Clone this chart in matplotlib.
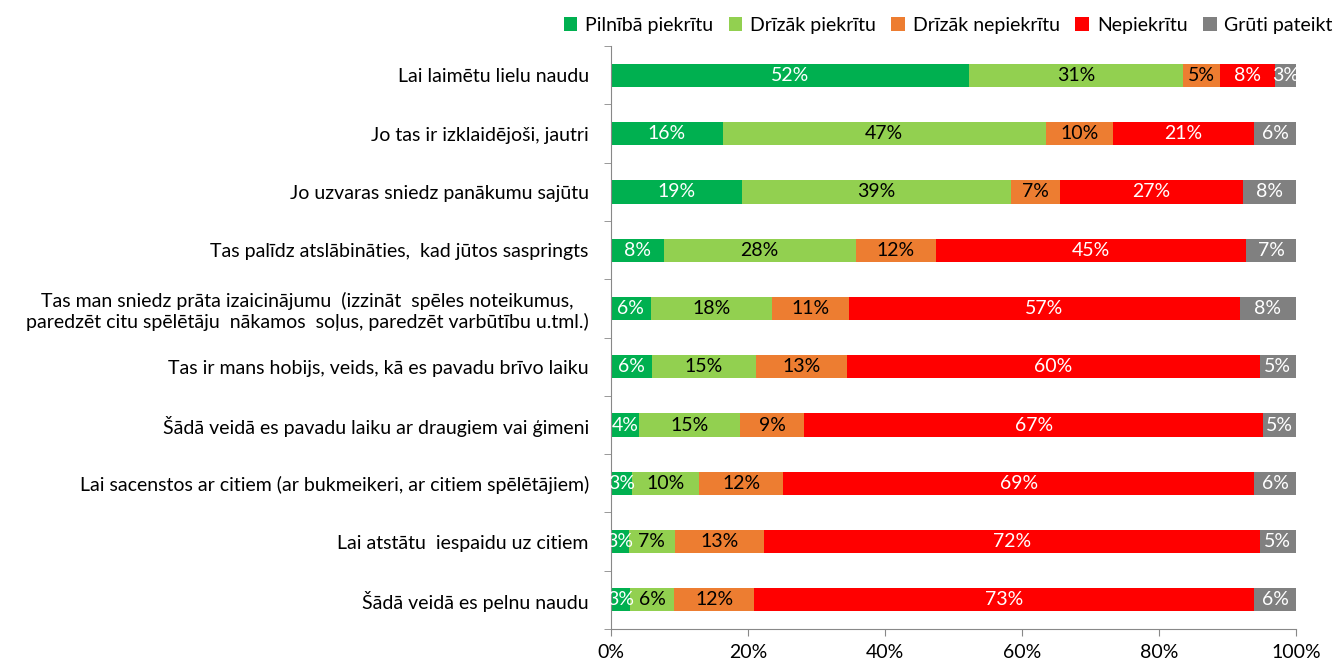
import numpy as np
import matplotlib.pyplot as plt
from matplotlib.ticker import FuncFormatter

plt.rcParams['font.family'] = ['Lato', 'DejaVu Sans']

categories = [
    "Lai laimētu lielu naudu",
    "Jo tas ir izklaidējoši, jautri",
    "Jo uzvaras sniedz panākumu sajūtu",
    "Tas palīdz atslābināties,  kad jūtos saspringts",
    "Tas man sniedz prāta izaicinājumu  (izzināt  spēles noteikumus,\nparedzēt citu spēlētāju  nākamos  soļus, paredzēt varbūtību u.tml.)",
    "Tas ir mans hobijs, veids, kā es pavadu brīvo laiku",
    "Šādā veidā es pavadu laiku ar draugiem vai ģimeni",
    "Lai sacenstos ar citiem (ar bukmeikeri, ar citiem spēlētājiem)",
    "Lai atstātu  iespaidu uz citiem",
    "Šādā veidā es pelnu naudu",
]

series_names = ["Pilnībā piekrītu", "Drīzāk piekrītu", "Drīzāk nepiekrītu",
                "Nepiekrītu", "Grūti pateikt"]

fully_agree = [52.3, 16.3, 19.1, 7.7, 5.8, 6.0, 4.1, 3.0, 2.6, 2.8]
rather_agree = [31.2, 47.2, 39.3, 28.0, 17.7, 15.1, 14.8, 9.9, 6.7, 6.4]
rather_disagree = [5.4, 9.8, 7.2, 11.7, 11.2, 13.4, 9.3, 12.2, 13.0, 11.7]
disagree = [8.0, 20.6, 26.6, 45.3, 57.1, 60.2, 67.0, 68.8, 72.4, 73.0]
hard_to_say = [3.1, 6.1, 7.8, 7.3, 8.2, 5.3, 4.8, 6.1, 5.3, 6.1]

colors = ["#00B050", "#92D050", "#ED7D31", "#FF0000", "#808080"]
text_colors = ["white", "black", "black", "white", "white"]

data = [fully_agree, rather_agree, rather_disagree, disagree, hard_to_say]

fig = plt.figure(figsize=(13.35, 6.66), dpi=100)
ax = fig.add_axes([0.4577, 0.0556, 0.5131, 0.875])

y = np.arange(len(categories))
left = np.zeros(len(categories))
for vals, name, col, tcol in zip(data, series_names, colors, text_colors):
    vals = np.array(vals)
    bars = ax.barh(y, vals, left=left, height=0.4, color=col, label=name)
    for rect, v in zip(bars, vals):
        ax.text(rect.get_x() + rect.get_width() / 2, rect.get_y() + rect.get_height() / 2,
                f"{round(v)}%", ha="center", va="center", color=tcol, fontsize=14)
    left += vals

ax.set_xlim(0, 100)
ax.set_ylim(len(categories) - 0.5, -0.5)
ax.set_yticks(y)
ax.set_yticklabels(categories, fontsize=14, multialignment="center")
ax.set_yticks(np.arange(-0.5, len(categories), 1), minor=True)
ax.tick_params(axis="y", which="major", length=0, pad=16)
ax.tick_params(axis="y", which="minor", length=5, color="#888888", direction="out")
ax.set_xticks(np.arange(0, 101, 20))
ax.xaxis.set_major_formatter(FuncFormatter(lambda v, p: f"{int(v)}%"))
ax.tick_params(axis="x", length=5, color="#888888", labelsize=14, pad=6)

for s in ["top", "right"]:
    ax.spines[s].set_visible(False)
for s in ["left", "bottom"]:
    ax.spines[s].set_color("#888888")

ax.legend(loc="lower right", bbox_to_anchor=(1.065, 1.008), ncol=5, frameon=False,
          fontsize=14, handlelength=0.7, handleheight=0.7, handletextpad=0.4,
          columnspacing=0.8, borderaxespad=0)

fig.savefig("out.png")
